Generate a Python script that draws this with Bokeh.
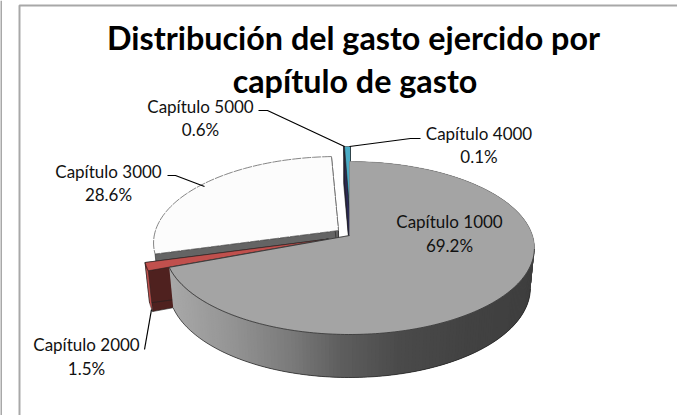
import numpy as np
from bokeh.embed import file_html
from bokeh.resources import INLINE
from bokeh.plotting import figure
from bokeh.models import Range1d
from bokeh.core.properties import value

# ---- data ----
categories = ["Capítulo 1000", "Capítulo 2000", "Capítulo 3000", "Capítulo 4000", "Capítulo 5000"]
shares = [69.2, 1.5, 28.6, 0.1, 0.6]
title_lines = ["Distribución del gasto ejercido por", "capítulo de gasto"]

# ---- styles / layout ----
W, H = 677, 415
CX, CY = 349.0, 235.0
A, B, K = 183.0, 84.7, 0.1445
SHIFT = {"Capítulo 1000": (0, 0), "Capítulo 2000": (-21, 3.5), "Capítulo 3000": (-11, -5),
         "Capítulo 4000": (1, -15), "Capítulo 5000": (1, -15)}
TOP = {"Capítulo 1000": "#a4a4a4", "Capítulo 2000": "#c0504d", "Capítulo 3000": "#fcfcfc",
       "Capítulo 4000": "#5b4a8a", "Capítulo 5000": "#4bacc6"}
WALL = {"Capítulo 2000": "#4f211f", "Capítulo 3000": "#646464",
        "Capítulo 4000": "#2b2550", "Capítulo 5000": "#2b2a55"}
LABEL_POS = {"Capítulo 1000": (449, 221, 245), "Capítulo 2000": (86, 344, 368),
             "Capítulo 3000": (108, 171, 194), "Capítulo 4000": (478.5, 133, 156),
             "Capítulo 5000": (200, 106, 129)}
LEADERS = [([258, 267, 344], [110, 110, 146]), ([349, 410, 420], [146, 138, 138]),
           ([167, 175, 204], [175, 175, 186]), ([151, 144], [309, 349])]
FONT = "Lato"

p = figure(width=W, height=H, output_backend="svg", toolbar_location=None,
           x_range=Range1d(0, W), y_range=Range1d(H, 0), min_border=0,
           outline_line_color=None, background_fill_color="white")
p.axis.visible = False
p.grid.visible = False


def proj(theta_deg, shift=(0, 0)):
    t = np.radians(theta_deg)
    u, v = np.sin(t), np.cos(t)
    d = 1 + K * v
    return CX + A * u / d + shift[0], CY - B * v / d + shift[1]


def drop(x, y):
    return CX + 0.978 * (np.asarray(x) - CX), np.asarray(y) + 40 + 3 * (np.asarray(y) - 250) / 84


def hexmix(stops, x):
    xs = [s[0] for s in stops]
    g = np.interp(x, xs, [s[1] for s in stops])
    c = int(round(g))
    return f"#{c:02x}{c:02x}{c:02x}"


# frame
p.line([0.5, 0.5], [0, H], line_color="#a8a8a8", line_width=2)
p.line([19, 19, W], [H, 5, 5], line_color="#a8a8a8", line_width=2)

# angles from the shares
edges = np.concatenate([[0], np.cumsum(shares)]) / sum(shares) * 360
span = {c: (edges[i], edges[i + 1]) for i, c in enumerate(categories)}

# back-to-front
for cat in ["Capítulo 3000", "Capítulo 4000", "Capítulo 5000", "Capítulo 2000"]:
    t0, t1 = span[cat]
    s = SHIFT[cat]
    th = np.linspace(t0, t1, 80)
    ax, ay = proj(th, s)
    cx, cy = CX + s[0], CY + s[1]
    # two cut walls
    for (ox, oy) in [(ax[0], ay[0]), (ax[-1], ay[-1])]:
        wx, wy = drop([cx, ox], [cy, oy])
        p.patch([cx, ox, wx[1], wx[0]], [cy, oy, wy[1], wy[0]], fill_color=WALL[cat],
                line_color="#222222", line_width=0.6)
    if cat == "Capítulo 2000":
        wx, wy = drop(ax, ay)
        p.patch(list(ax) + list(wx[::-1]), list(ay) + list(wy[::-1]), fill_color=TOP[cat],
                line_color="#222222", line_width=0.5)
    fx = [cx] + list(ax)
    fy = [cy] + list(ay)
    if cat == "Capítulo 3000":
        p.patch(fx, fy, fill_color=TOP[cat], line_color="#666666", line_width=0.8, line_dash="9 1")
    else:
        p.patch(fx, fy, fill_color=TOP[cat], line_color="#222222", line_width=0.6)

# main slice: shaded side then face
cat = "Capítulo 1000"
t0, t1 = span[cat]
th = np.linspace(t0, t1, 240)
ax, ay = proj(th)
wx, wy = drop(ax, ay)
stops = [(170, 168), (230, 148), (290, 122), (340, 94), (400, 74), (470, 66), (535, 62)]
# each strip overlaps the next, so no seams show
for i in range(len(th) - 3):
    col = hexmix(stops, (ax[i] + ax[i + 1]) / 2)
    j = i + 3
    p.patch([ax[i], ax[j], wx[j], wx[i]], [ay[i], ay[j], wy[j], wy[i]],
            fill_color=col, line_color=None)
front = th >= 98
p.line(wx[front], wy[front], line_color="#222222", line_width=0.7)
p.patch([CX] + list(ax), [CY] + list(ay), fill_color=TOP[cat], line_color="#8a8a8a", line_width=0.5)
p.line(ax[front], ay[front], line_color="#222222", line_width=0.7)
p.line([CX, ax[-1]], [CY, ay[-1]], line_color="#222222", line_width=0.7)

# leaders
for lx, ly in LEADERS:
    p.line(lx, ly, line_color="black", line_width=1.2)

# labels
for c, sh in zip(categories, shares):
    x, y1, y2 = LABEL_POS[c]
    p.text([x, x], [y1, y2], text=[c, f"{sh:.1f}%"], text_font=value(FONT), text_font_size="17px",
           text_align="center", text_baseline="middle", text_color="#111111")

# title
p.text([353, 354.5], [37, 80], text=title_lines, text_font=value(FONT), text_font_size="32.3px",
       text_font_style="bold", text_align="center", text_baseline="middle", text_color="#000000")

open("out.html", "w").write(file_html(p, INLINE))
